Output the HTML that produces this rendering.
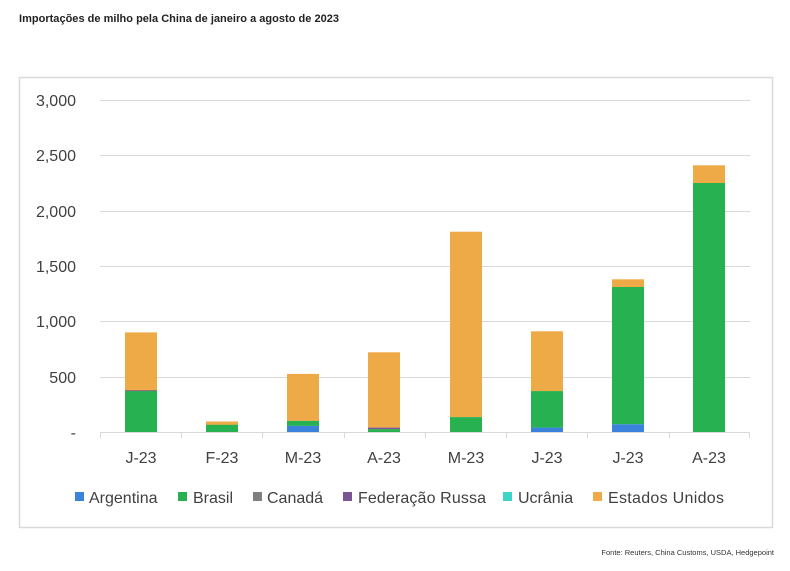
<!DOCTYPE html>
<html><head><meta charset="utf-8"><style>
html,body{margin:0;padding:0;background:#fff;width:790px;height:571px;overflow:hidden}
svg{display:block}
</style></head><body>
<svg width="790" height="571" xmlns="http://www.w3.org/2000/svg" font-family="Liberation Sans, sans-serif">
<text x="19" y="22" font-size="11" font-weight="bold" fill="#222" textLength="320">Importações de milho pela China de janeiro a agosto de 2023</text>
<rect x="19.5" y="77.5" width="753" height="450" fill="#fff" stroke="#d9d9d9" stroke-width="1.5"/>
<g stroke="#d9d9d9" stroke-width="1">
<line x1="100" y1="100.5" x2="750" y2="100.5"/>
<line x1="100" y1="155.5" x2="750" y2="155.5"/>
<line x1="100" y1="211.5" x2="750" y2="211.5"/>
<line x1="100" y1="266.5" x2="750" y2="266.5"/>
<line x1="100" y1="321.5" x2="750" y2="321.5"/>
<line x1="100" y1="377.5" x2="750" y2="377.5"/>
</g>
<g font-size="16" fill="#404040" text-anchor="end">
<text x="76" y="106">3,000</text>
<text x="76" y="161">2,500</text>
<text x="76" y="217">2,000</text>
<text x="76" y="272">1,500</text>
<text x="76" y="327">1,000</text>
<text x="76" y="383">500</text>
<text x="76" y="438">-</text>
</g>
<g id="bars">
<rect x="125" y="332.4" width="32" height="58.9" fill="#efaa48"/>
<rect x="125" y="390.3" width="32" height="1.5" fill="#7b5494"/>
<rect x="125" y="391.1" width="32" height="40.9" fill="#27b151"/>
<rect x="206" y="421.5" width="32" height="3.5" fill="#efaa48"/>
<rect x="206" y="424.8" width="32" height="7.2" fill="#27b151"/>
<rect x="287" y="373.9" width="32" height="47" fill="#efaa48"/>
<rect x="287" y="420.9" width="32" height="5" fill="#27b151"/>
<rect x="287" y="425.9" width="32" height="6.1" fill="#3b82dd"/>
<rect x="368" y="352.3" width="32" height="75.3" fill="#efaa48"/>
<rect x="368" y="427.6" width="32" height="1.7" fill="#7b5494"/>
<rect x="368" y="429.2" width="32" height="2.8" fill="#27b151"/>
<rect x="450" y="231.7" width="32" height="185.4" fill="#efaa48"/>
<rect x="450" y="417.1" width="32" height="14.9" fill="#27b151"/>
<rect x="531" y="331.3" width="32" height="60" fill="#efaa48"/>
<rect x="531" y="391.1" width="32" height="36.5" fill="#27b151"/>
<rect x="531" y="427.6" width="32" height="4.4" fill="#3b82dd"/>
<rect x="612" y="279.3" width="32" height="7.8" fill="#efaa48"/>
<rect x="612" y="287" width="32" height="137.3" fill="#27b151"/>
<rect x="612" y="424.3" width="32" height="7.7" fill="#3b82dd"/>
<rect x="693" y="165.3" width="32" height="17.7" fill="#efaa48"/>
<rect x="693" y="183" width="32" height="249" fill="#27b151"/>
</g>
<g stroke="#d9d9d9" stroke-width="1">
<line x1="100" y1="432.5" x2="750" y2="432.5"/>
<line x1="100.5" y1="432" x2="100.5" y2="438"/>
<line x1="181.5" y1="432" x2="181.5" y2="438"/>
<line x1="262.5" y1="432" x2="262.5" y2="438"/>
<line x1="344.5" y1="432" x2="344.5" y2="438"/>
<line x1="425.5" y1="432" x2="425.5" y2="438"/>
<line x1="506.5" y1="432" x2="506.5" y2="438"/>
<line x1="587.5" y1="432" x2="587.5" y2="438"/>
<line x1="669.5" y1="432" x2="669.5" y2="438"/>
<line x1="749.5" y1="432" x2="749.5" y2="438"/>
</g>
<g font-size="16" fill="#404040" text-anchor="middle">
<text x="141" y="463">J-23</text>
<text x="222" y="463">F-23</text>
<text x="303" y="463">M-23</text>
<text x="384" y="463">A-23</text>
<text x="466" y="463">M-23</text>
<text x="547" y="463">J-23</text>
<text x="628" y="463">J-23</text>
<text x="709" y="463">A-23</text>
</g>
<g font-size="16" fill="#404040">
<rect x="75" y="492" width="9" height="9" fill="#3b82dd"/><text x="89" y="503">Argentina</text>
<rect x="178" y="492" width="9" height="9" fill="#27b151"/><text x="193" y="503">Brasil</text>
<rect x="253" y="492" width="9" height="9" fill="#808080"/><text x="267" y="503">Canadá</text>
<rect x="343" y="492" width="9" height="9" fill="#7b5494"/><text x="358" y="503" textLength="128">Federação Russa</text>
<rect x="503" y="492" width="9" height="9" fill="#3fd3c8"/><text x="518" y="503">Ucrânia</text>
<rect x="593" y="492" width="9" height="9" fill="#efaa48"/><text x="608" y="503" textLength="116">Estados Unidos</text>
</g>
<text x="774" y="555" font-size="7.5" fill="#333" text-anchor="end">Fonte: Reuters, China Customs, USDA, Hedgepoint</text>
</svg>
</body></html>
